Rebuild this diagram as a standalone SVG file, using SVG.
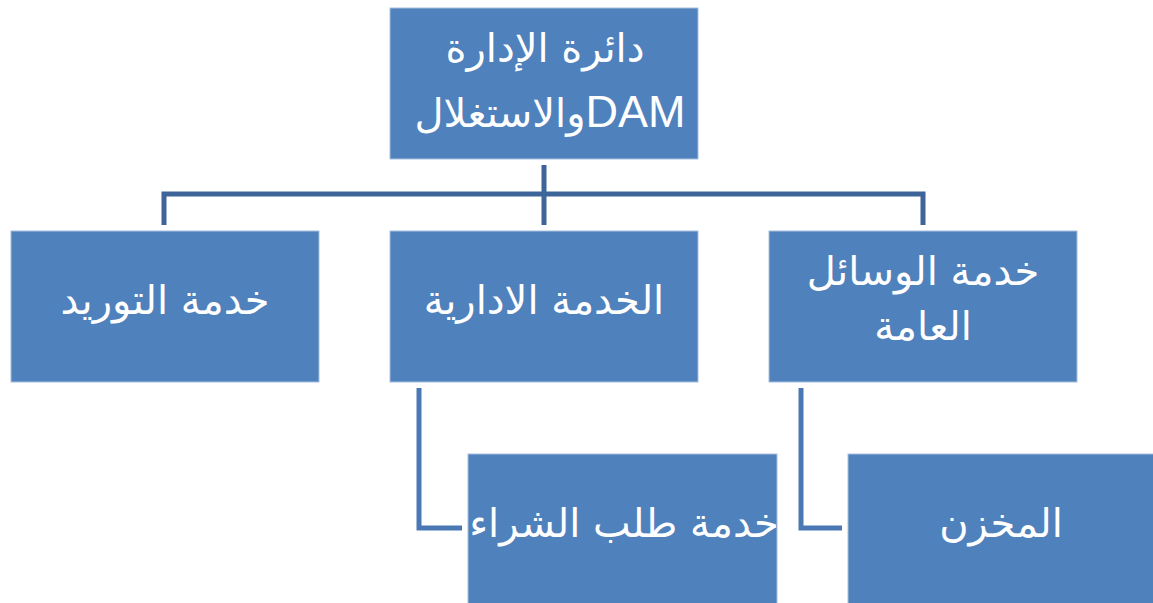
<svg xmlns="http://www.w3.org/2000/svg" width="1153" height="603" viewBox="0 0 1153 603">
<style>
.box{fill:#4F81BD;stroke:#A7BFDE;stroke-width:1}
.t{fill:#FFFFFF;font-family:"DejaVu Sans","Liberation Sans",sans-serif;font-size:40px;text-anchor:middle;direction:rtl}
.lat{font-family:"Liberation Sans",Arial,sans-serif;font-size:45px}
.c1{fill:none;stroke:#3D6599;stroke-width:5}
.c2{fill:none;stroke:#4A78B5;stroke-width:5}
</style>
<rect width="1153" height="603" fill="#FFFFFF"/>
<g id="connectors">
<path class="c1" d="M544,165 V225 M164,225 V194 H923 V225"/>
<path class="c2" d="M419,388 V528 H462"/>
<path class="c2" d="M801,388 V528 H842"/>
</g>
<g id="n-top">
<rect class="box" x="390" y="8" width="308" height="151"/>
<text class="t" x="545" y="62">دائرة الإدارة</text>
<text class="t" x="550" y="127"><tspan class="lat">DAM</tspan>والاستغلال</text>
</g>
<g id="n-supply">
<rect class="box" x="11" y="231" width="308" height="151"/>
<text class="t" x="165" y="314">خدمة التوريد</text>
</g>
<g id="n-admin">
<rect class="box" x="390" y="231" width="308" height="151"/>
<text class="t" x="544" y="314">الخدمة الادارية</text>
</g>
<g id="n-general">
<rect class="box" x="769" y="231" width="308" height="151"/>
<text class="t" x="923" y="285">خدمة الوسائل</text>
<text class="t" x="923" y="340">العامة</text>
</g>
<g id="n-purchase">
<rect class="box" x="468" y="454" width="309" height="150"/>
<text class="t" x="624" y="537">خدمة طلب الشراء</text>
</g>
<g id="n-store">
<rect class="box" x="848" y="454" width="306" height="150"/>
<text class="t" x="1001" y="537">المخزن</text>
</g>
</svg>
